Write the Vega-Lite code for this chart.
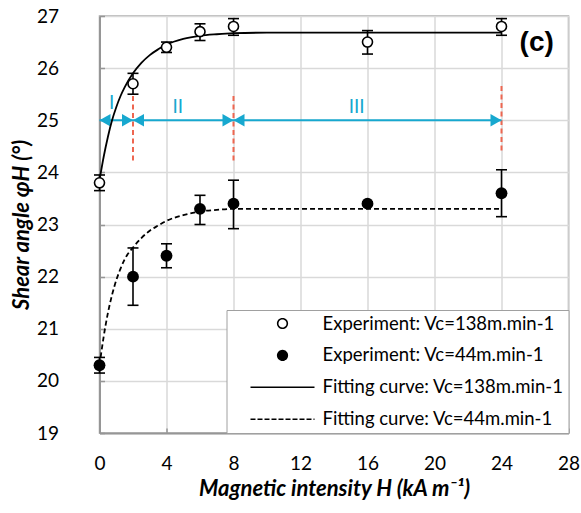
{
  "$schema": "https://vega.github.io/schema/vega-lite/v6.json",
  "width": 469,
  "height": 417,
  "autosize": {"type": "none"},
  "padding": {"left": 99.5, "top": 16, "right": 12, "bottom": 80},
  "background": "white",
  "config": {
    "view": {"stroke": "#a6a6a6", "strokeWidth": 1.5},
    "font": "Lato"
  },
  "datasets": {
    "exp": [
      {"H": 0, "phi": 23.8, "lo": 23.65, "hi": 23.95, "series": "Experiment: Vc=138m.min-1"},
      {"H": 2, "phi": 25.7, "lo": 25.5, "hi": 25.9, "series": "Experiment: Vc=138m.min-1"},
      {"H": 4, "phi": 26.4, "lo": 26.3, "hi": 26.5, "series": "Experiment: Vc=138m.min-1"},
      {"H": 6, "phi": 26.7, "lo": 26.53, "hi": 26.85, "series": "Experiment: Vc=138m.min-1"},
      {"H": 8, "phi": 26.8, "lo": 26.63, "hi": 26.95, "series": "Experiment: Vc=138m.min-1"},
      {"H": 16, "phi": 26.5, "lo": 26.27, "hi": 26.72, "series": "Experiment: Vc=138m.min-1"},
      {"H": 24, "phi": 26.8, "lo": 26.63, "hi": 26.95, "series": "Experiment: Vc=138m.min-1"},
      {"H": 0, "phi": 20.3, "lo": 20.15, "hi": 20.45, "series": "Experiment: Vc=44m.min-1"},
      {"H": 2, "phi": 22.0, "lo": 21.45, "hi": 22.55, "series": "Experiment: Vc=44m.min-1"},
      {"H": 4, "phi": 22.4, "lo": 22.17, "hi": 22.63, "series": "Experiment: Vc=44m.min-1"},
      {"H": 6, "phi": 23.3, "lo": 23.0, "hi": 23.56, "series": "Experiment: Vc=44m.min-1"},
      {"H": 8, "phi": 23.4, "lo": 22.92, "hi": 23.85, "series": "Experiment: Vc=44m.min-1"},
      {"H": 16, "phi": 23.4, "lo": 23.37, "hi": 23.43, "series": "Experiment: Vc=44m.min-1"},
      {"H": 24, "phi": 23.6, "lo": 23.15, "hi": 24.05, "series": "Experiment: Vc=44m.min-1"}
    ],
    "fit": [
      {"H": 0, "phi": 23.85, "series": "Fitting curve: Vc=138m.min-1"},
      {"H": 0.25, "phi": 24.3, "series": "Fitting curve: Vc=138m.min-1"},
      {"H": 0.5, "phi": 24.68, "series": "Fitting curve: Vc=138m.min-1"},
      {"H": 0.75, "phi": 25.0, "series": "Fitting curve: Vc=138m.min-1"},
      {"H": 1, "phi": 25.25, "series": "Fitting curve: Vc=138m.min-1"},
      {"H": 1.25, "phi": 25.46, "series": "Fitting curve: Vc=138m.min-1"},
      {"H": 1.5, "phi": 25.63, "series": "Fitting curve: Vc=138m.min-1"},
      {"H": 2, "phi": 25.9, "series": "Fitting curve: Vc=138m.min-1"},
      {"H": 2.5, "phi": 26.1, "series": "Fitting curve: Vc=138m.min-1"},
      {"H": 3, "phi": 26.25, "series": "Fitting curve: Vc=138m.min-1"},
      {"H": 3.5, "phi": 26.36, "series": "Fitting curve: Vc=138m.min-1"},
      {"H": 4, "phi": 26.45, "series": "Fitting curve: Vc=138m.min-1"},
      {"H": 5, "phi": 26.56, "series": "Fitting curve: Vc=138m.min-1"},
      {"H": 6, "phi": 26.62, "series": "Fitting curve: Vc=138m.min-1"},
      {"H": 7, "phi": 26.65, "series": "Fitting curve: Vc=138m.min-1"},
      {"H": 8, "phi": 26.67, "series": "Fitting curve: Vc=138m.min-1"},
      {"H": 10, "phi": 26.68, "series": "Fitting curve: Vc=138m.min-1"},
      {"H": 16, "phi": 26.68, "series": "Fitting curve: Vc=138m.min-1"},
      {"H": 24, "phi": 26.68, "series": "Fitting curve: Vc=138m.min-1"},
      {"H": 0, "phi": 20.3, "series": "Fitting curve: Vc=44m.min-1"},
      {"H": 0.25, "phi": 20.85, "series": "Fitting curve: Vc=44m.min-1"},
      {"H": 0.5, "phi": 21.3, "series": "Fitting curve: Vc=44m.min-1"},
      {"H": 0.75, "phi": 21.65, "series": "Fitting curve: Vc=44m.min-1"},
      {"H": 1, "phi": 21.93, "series": "Fitting curve: Vc=44m.min-1"},
      {"H": 1.25, "phi": 22.15, "series": "Fitting curve: Vc=44m.min-1"},
      {"H": 1.5, "phi": 22.33, "series": "Fitting curve: Vc=44m.min-1"},
      {"H": 2, "phi": 22.56, "series": "Fitting curve: Vc=44m.min-1"},
      {"H": 2.5, "phi": 22.74, "series": "Fitting curve: Vc=44m.min-1"},
      {"H": 3, "phi": 22.88, "series": "Fitting curve: Vc=44m.min-1"},
      {"H": 3.5, "phi": 22.98, "series": "Fitting curve: Vc=44m.min-1"},
      {"H": 4, "phi": 23.07, "series": "Fitting curve: Vc=44m.min-1"},
      {"H": 5, "phi": 23.18, "series": "Fitting curve: Vc=44m.min-1"},
      {"H": 6, "phi": 23.25, "series": "Fitting curve: Vc=44m.min-1"},
      {"H": 7, "phi": 23.28, "series": "Fitting curve: Vc=44m.min-1"},
      {"H": 8, "phi": 23.3, "series": "Fitting curve: Vc=44m.min-1"},
      {"H": 12, "phi": 23.3, "series": "Fitting curve: Vc=44m.min-1"},
      {"H": 24, "phi": 23.3, "series": "Fitting curve: Vc=44m.min-1"}
    ],
    "arrowLine": [{"H1": 0, "H2": 24, "phi": 25}],
    "heads": [
      {"H": 0, "phi": 25, "dir": "left"},
      {"H": 2, "phi": 25, "dir": "left"},
      {"H": 8, "phi": 25, "dir": "left"},
      {"H": 2, "phi": 25, "dir": "right"},
      {"H": 8, "phi": 25, "dir": "right"},
      {"H": 24, "phi": 25, "dir": "right"}
    ],
    "regions": [
      {"H": 0.72, "phi": 25.34, "label": "I"},
      {"H": 4.67, "phi": 25.26, "label": "II"},
      {"H": 15.35, "phi": 25.26, "label": "III"}
    ],
    "bounds": [
      {"H": 2, "lo": 24.23, "hi": 25.48},
      {"H": 8, "lo": 24.23, "hi": 25.48},
      {"H": 24, "lo": 24.42, "hi": 25.67}
    ],
    "tag": [{"H": 26.1, "phi": 26.48, "text": "(c)"}]
  },
  "encoding": {
    "x": {
      "field": "H", "type": "quantitative",
      "scale": {"domain": [0, 28], "nice": false, "zero": false},
      "axis": {
        "title": "Magnetic intensity H (kA m⁻¹)",
        "values": [0, 4, 8, 12, 16, 20, 24, 28],
        "labelFlush": false,
        "grid": true, "gridColor": "#d9d9d9", "gridWidth": 1.5,
        "domainColor": "#969696", "domainWidth": 2,
        "tickColor": "#969696", "tickWidth": 1.5, "tickSize": -5,
        "labelFont": "Lato", "labelFontSize": 19, "labelColor": "black", "labelPadding": 26,
        "titleFont": "Lato", "titleFontSize": 22, "titleFontWeight": "bold", "titleFontStyle": "italic",
        "titleColor": "black", "titlePadding": 5
      }
    },
    "y": {
      "field": "phi", "type": "quantitative",
      "scale": {"domain": [19, 27], "nice": false, "zero": false},
      "axis": {
        "title": "Shear angle φH (°)",
        "values": [19, 20, 21, 22, 23, 24, 25, 26, 27],
        "labelFlush": false,
        "grid": true, "gridColor": "#d9d9d9", "gridWidth": 1.5,
        "domainColor": "#969696", "domainWidth": 2,
        "tickColor": "#969696", "tickWidth": 1.5, "tickSize": -5,
        "labelFont": "Lato", "labelFontSize": 19, "labelColor": "black", "labelPadding": 46,
        "titleFont": "Lato", "titleFontSize": 22, "titleFontWeight": "bold", "titleFontStyle": "italic",
        "titleColor": "black", "titlePadding": 3
      }
    }
  },
  "layer": [
    {
      "data": {"name": "bounds"},
      "mark": {"type": "rule", "color": "#ee6650", "strokeWidth": 2, "strokeDash": [5, 3.5]},
      "encoding": {"y": {"field": "lo", "type": "quantitative"}, "y2": {"field": "hi"}}
    },
    {
      "data": {"name": "arrowLine"},
      "mark": {"type": "rule", "color": "#17a8cf", "strokeWidth": 2},
      "encoding": {"x": {"field": "H1", "type": "quantitative"}, "x2": {"field": "H2"}}
    },
    {
      "data": {"name": "heads"},
      "transform": [{"filter": "datum.dir === 'left'"}],
      "mark": {"type": "point", "shape": "triangle-left", "filled": true, "color": "#17a8cf", "size": 160, "xOffset": 5.5, "opacity": 1}
    },
    {
      "data": {"name": "heads"},
      "transform": [{"filter": "datum.dir === 'right'"}],
      "mark": {"type": "point", "shape": "triangle-right", "filled": true, "color": "#17a8cf", "size": 160, "xOffset": -5.5, "opacity": 1}
    },
    {
      "data": {"name": "regions"},
      "mark": {"type": "text", "color": "#17a8cf", "font": "Lato", "fontSize": 19, "baseline": "middle", "align": "center"},
      "encoding": {"text": {"field": "label"}}
    },
    {
      "data": {"name": "fit"},
      "transform": [{"filter": "datum.series === 'Fitting curve: Vc=138m.min-1'"}],
      "mark": {"type": "line", "color": "black", "strokeWidth": 1.8, "interpolate": "monotone"},
      "encoding": {
        "color": {
          "field": "series", "type": "nominal",
          "scale": {
            "domain": ["Experiment: Vc=138m.min-1", "Experiment: Vc=44m.min-1", "Fitting curve: Vc=138m.min-1", "Fitting curve: Vc=44m.min-1"],
            "range": ["black", "black", "black", "black"]
          },
          "legend": {
            "title": null,
            "orient": "bottom-right",
            "offset": 0,
            "fillColor": "white",
            "strokeColor": "#a0a0a0",
            "padding": 4,
            "symbolSize": 4096,
            "clipHeight": 19,
            "rowPadding": 12.9,
            "symbolOffset": 19,
            "labelOffset": 7,
            "labelFont": "Lato",
            "labelFontSize": 18.5,
            "labelColor": "black",
            "labelLimit": 400,
            "encode": {
              "symbols": {
                "update": {
                  "shape": {"signal": "indexof(datum.value, 'Fitting') >= 0 ? 'M-1,0L1,0' : 'M-0.15,0A0.15,0.15 0 1,0 0.15,0A0.15,0.15 0 1,0 -0.15,0Z'"},
                  "fill": {"signal": "datum.value === 'Experiment: Vc=44m.min-1' ? 'black' : (datum.value === 'Experiment: Vc=138m.min-1' ? 'white' : 'transparent')"},
                  "stroke": {"value": "black"},
                  "strokeWidth": {"value": 1.6},
                  "strokeDash": {"signal": "datum.value === 'Fitting curve: Vc=44m.min-1' ? [5, 2] : [1, 0]"},
                  "opacity": {"value": 1}
                }
              }
            }
          }
        }
      }
    },
    {
      "data": {"name": "fit"},
      "transform": [{"filter": "datum.series === 'Fitting curve: Vc=44m.min-1'"}],
      "mark": {"type": "line", "color": "black", "strokeWidth": 1.8, "strokeDash": [5, 3], "interpolate": "monotone"}
    },
    {
      "data": {"name": "exp"},
      "mark": {"type": "rule", "color": "black", "strokeWidth": 1.6},
      "encoding": {"y": {"field": "lo", "type": "quantitative"}, "y2": {"field": "hi"}}
    },
    {
      "data": {"name": "exp"},
      "mark": {"type": "tick", "orient": "horizontal", "color": "black", "thickness": 1.6, "size": 11, "opacity": 1},
      "encoding": {"y": {"field": "lo", "type": "quantitative"}}
    },
    {
      "data": {"name": "exp"},
      "mark": {"type": "tick", "orient": "horizontal", "color": "black", "thickness": 1.6, "size": 11, "opacity": 1},
      "encoding": {"y": {"field": "hi", "type": "quantitative"}}
    },
    {
      "data": {"name": "exp"},
      "transform": [{"filter": "datum.series === 'Experiment: Vc=138m.min-1'"}],
      "mark": {"type": "point", "shape": "circle", "filled": true, "color": "white", "stroke": "black", "strokeWidth": 1.6, "size": 100, "opacity": 1}
    },
    {
      "data": {"name": "exp"},
      "transform": [{"filter": "datum.series === 'Experiment: Vc=44m.min-1'"}],
      "mark": {"type": "point", "shape": "circle", "filled": true, "color": "black", "size": 140, "opacity": 1}
    },
    {
      "data": {"name": "tag"},
      "mark": {"type": "text", "font": "Liberation Sans", "fontSize": 28, "fontWeight": "bold", "color": "black", "baseline": "middle", "align": "center"},
      "encoding": {"text": {"field": "text"}}
    }
  ]
}
